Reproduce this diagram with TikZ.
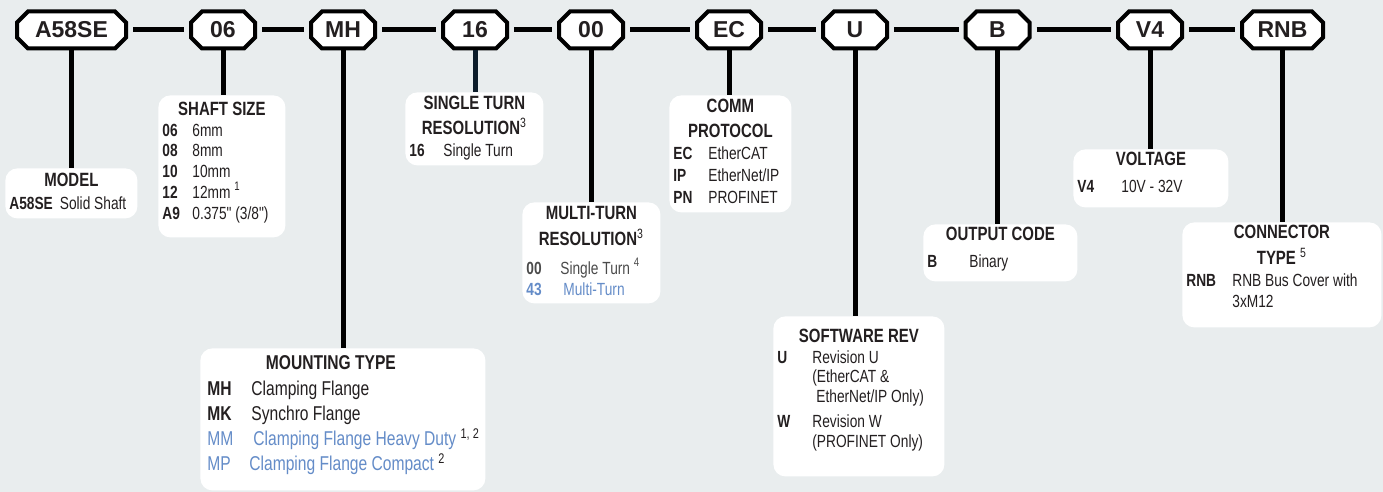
\documentclass[tikz,border=0pt]{standalone}
\usepackage{fontspec}
\setmainfont{Liberation Sans}
\newfontfamily\narrowfont{Liberation Sans}[FakeStretch=0.78]

\definecolor{bgfill}{RGB}{233,237,238}
\definecolor{inkdark}{RGB}{35,31,32}
\definecolor{optblue}{RGB}{100,140,200}
\definecolor{optgray}{RGB}{75,75,75}
\definecolor{navyline}{RGB}{12,28,42}

% title of a panel: [size]{top strut}{line skip}{text}
\newcommand{\boxhead}[4][9.6]{{\centering\bfseries\fontsize{#1}{#3}\selectfont\rule{0pt}{#2}#4\par}}
% one option line: [code column]{code}{description}
\newcommand{\entry}[3][15pt]{{\hangindent=#1\hangafter=1\makebox[#1][l]{\bfseries #2}#3\par}}
% panel body: {width}{height}{line skip}{content}
\newcommand{\panel}[4]{\parbox[c][#2][t]{#1}{\narrowfont\color{inkdark}\fontsize{8.8}{#3}\selectfont #4}}

\begin{document}
\begin{tikzpicture}[
    x=0.5pt, y=-0.5pt,
    tagline/.style={draw=black, line width=2pt, fill=white},
    codebox/.style={rectangle, text=inkdark, font=\fontsize{11.5}{12}\selectfont\bfseries,
        minimum height=20.5pt, inner sep=0pt, outer sep=0pt},
    infobox/.style={fill=white, rounded corners=6pt, anchor=north west, inner xsep=2pt, inner ysep=0pt},
    link/.style={draw=black, line width=2.5pt}
]
\fill[bgfill] (0,0) rectangle (1383,492);
\useasboundingbox (0,0) rectangle (1383,492);

% Code tags: octagon outline, then the named node on top
\foreach \nm/\x/\w/\txt in {cA/71.5/113/A58SE, c06/223/68/06, cMH/343/68/MH, c16/475/68/16,
        c00/591/68/00, cEC/729/68/EC, cU/855/68/U, cB/997.5/68/B, cV4/1150/68/V4, cRNB/1282.5/85/RNB} {
    \pgfmathsetmacro{\hw}{(\w-4)/2}
    \draw[tagline] (\x-\hw+11,11.5) -- (\x+\hw-11,11.5) -- (\x+\hw,22.5) -- (\x+\hw,37.5)
        -- (\x+\hw-11,48.5) -- (\x-\hw+11,48.5) -- (\x-\hw,37.5) -- (\x-\hw,22.5) -- cycle;
    \node[codebox, minimum width=\w*0.5pt] (\nm) at (\x,30) {\txt};
}

% Option panels
\node[infobox] (model) at (5,168) {\panel{62pt}{25pt}{11.5pt}{%
    \boxhead{9pt}{12pt}{MODEL}%
    \textbf{A58SE}\hspace{3.5pt}Solid Shaft\par}};

\node[infobox] (shaft) at (158,95) {\panel{59.5pt}{71pt}{10.4pt}{%
    \boxhead{10pt}{12pt}{SHAFT SIZE}%
    \entry{06}{6mm}
    \entry{08}{8mm}
    \entry{10}{10mm}
    \entry{12}{12mm \textsuperscript{1}}
    \entry{A9}{0.375" (3/8")}}};

\node[infobox] (single) at (405,92) {\panel{65pt}{36.5pt}{11pt}{%
    \boxhead{8.5pt}{12.5pt}{SINGLE TURN\\RESOLUTION\textsuperscript{\mdseries 3}}%
    \entry[17pt]{16}{Single Turn}}};

\node[infobox] (multi) at (522,202) {\panel{65pt}{50.5pt}{10.5pt}{%
    \boxhead{8.5pt}{13pt}{MULTI-TURN\\RESOLUTION\textsuperscript{\mdseries 3}}%
    \vspace{4pt}
    \entry[17pt]{\color{optgray}00}{\color{optgray}Single Turn \textsuperscript{4}}
    \entry[18.5pt]{\color{optblue}43}{\color{optblue}Multi-Turn}}};

\node[infobox] (comm) at (669,95) {\panel{57pt}{58.5pt}{11pt}{%
    \boxhead{8.5pt}{12.5pt}{COMM\\PROTOCOL}%
    \entry[17.5pt]{EC}{EtherCAT}
    \entry[17.5pt]{IP}{EtherNet/IP}
    \entry[17.5pt]{PN}{PROFINET}}};

\node[infobox] (mount) at (200,348) {\panel{138.5pt}{71pt}{12.5pt}{%
    \fontsize{10}{12.5}\selectfont\leftskip=1.5pt
    \boxhead[10]{10.5pt}{12pt}{MOUNTING TYPE\hspace*{12pt}}%
    \vspace{0.5pt}
    \entry[22pt]{MH}{Clamping Flange}
    \entry[22pt]{MK}{Synchro Flange}
    {\color{optblue}\makebox[23pt][l]{MM}Clamping Flange Heavy Duty \textcolor{inkdark}{\textsuperscript{1, 2}}\par}
    {\color{optblue}\makebox[21pt][l]{MP}Clamping Flange Compact \textcolor{inkdark}{\textsuperscript{2}}\par}}};

\node[infobox] (soft) at (773,316) {\panel{81.5pt}{80pt}{9.8pt}{%
    \boxhead{13pt}{12pt}{SOFTWARE REV}%
    \vspace{0.5pt}
    \entry[17.5pt]{U}{Revision U\\(EtherCAT \&\\\hspace*{2pt}EtherNet/IP Only)}
    \vspace{3pt}
    \entry[17.5pt]{W}{Revision W\\(PROFINET Only)}}};

\node[infobox] (output) at (923,224) {\panel{73pt}{28.5pt}{13.5pt}{%
    \boxhead{8pt}{12pt}{OUTPUT CODE}%
    \entry[21pt]{B}{Binary}}};

\node[infobox] (volt) at (1073,149) {\panel{73.5pt}{29pt}{13.5pt}{%
    \boxhead{8pt}{12pt}{VOLTAGE}%
    \entry[22pt]{V4}{10V - 32V}}};

\node[infobox] (conn) at (1182,222) {\panel{95.5pt}{52.5pt}{10.8pt}{%
    \boxhead{8pt}{13pt}{CONNECTOR\\TYPE \textsuperscript{\mdseries 5}}%
    \entry[23pt]{RNB}{RNB Bus Cover with\\3xM12}}};

% Links between the code tags
\foreach \a/\b in {cA/c06, c06/cMH, cMH/c16, c16/c00, c00/cEC, cEC/cU, cU/cB, cB/cV4, cV4/cRNB}
    \draw[link, shorten <=2.5pt, shorten >=2.5pt] (\a) -- (\b);

% Drops to the option panels
\foreach \c/\p in {cA/model, c06/shaft, cMH/mount, c00/multi, cEC/comm, cU/soft, cB/output, cV4/volt, cRNB/conn}
    \draw[link] (\c.south) -- (\c.south |- \p.north);
\draw[link, draw=navyline] (c16.south) -- (c16.south |- single.north);

\end{tikzpicture}
\end{document}
